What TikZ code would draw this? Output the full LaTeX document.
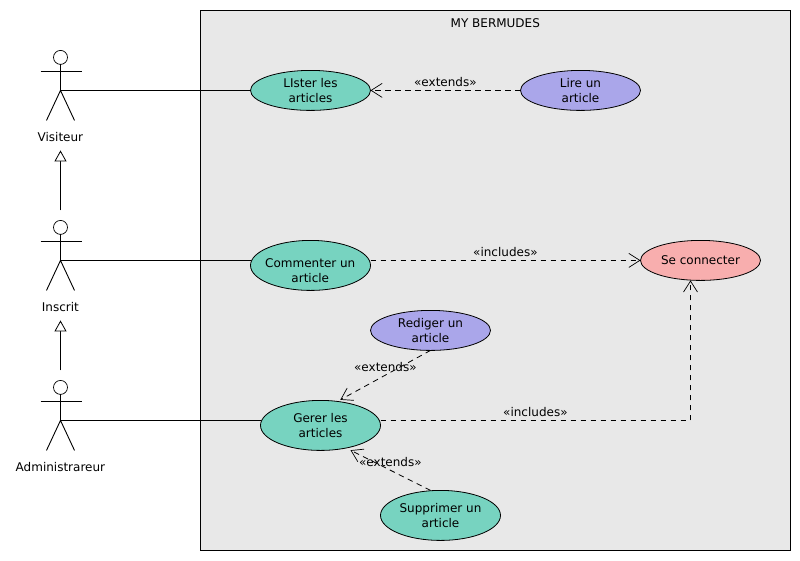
\documentclass[tikz,border=0pt]{standalone}
\usepackage{fontspec}
\setmainfont{DejaVu Sans}
\usetikzlibrary{arrows.meta,shapes.geometric}
\tikzset{
  x=1pt,y=-1pt,
  every node/.style={font=\fontsize{12}{15}\selectfont,text=black},
  line/.style={draw=black,line width=0.9pt},
  uc/.style={ellipse,draw=black,line width=0.8pt,minimum width=120pt,inner xsep=-12pt,inner ysep=0pt,outer sep=0pt,align=center},
  ucsmall/.style={uc,minimum height=40pt},
  ucbig/.style={uc,minimum height=50pt},
  teal/.style={fill=tealc},
  purple/.style={fill=purplec},
  pink/.style={fill=pinkc},
  dep/.style={draw=black,line width=0.8pt,dash pattern=on 5.5pt off 4.5pt,-{Straight Barb[length=11pt,width=14pt,line width=0.7pt]}},
  gen/.style={draw=black,line width=0.9pt,-{Triangle[open,length=11pt,width=12pt,fill=white,line width=0.8pt]}},
  actorpart/.style={draw=black,line width=0.9pt},
  lbl/.style={inner sep=0pt,align=center}
}
\definecolor{tealc}{HTML}{77D3C0}
\definecolor{purplec}{HTML}{AAA6EA}
\definecolor{pinkc}{HTML}{F8AEAE}
\definecolor{sysc}{HTML}{E8E8E8}
\newcommand{\myactor}[2]{%
  \draw[actorpart,line width=0.7pt,fill=white] (#1,#2-33) circle (7pt);
  \draw[actorpart] (#1,#2-26) -- (#1,#2);
  \draw[actorpart] (#1-20,#2-19) -- (#1+21,#2-19);
  \draw[actorpart] (#1-14,#2+30) -- (#1,#2) -- (#1+14,#2+30);
}
\begin{document}
\begin{tikzpicture}
\useasboundingbox (0,0) rectangle (800,560);
\filldraw[fill=sysc,draw=black,line width=0.8pt] (200.5,10.6) rectangle (790.5,550.4);
\node[lbl] (title) at (495.3,23.4) {MY BERMUDES};

\node[ucsmall,teal] (lister) at (310.5,90.4) {LIster les\\articles};
\node[ucsmall,purple] (lire) at (580.5,90.4) {Lire un\\article};
\node[ucbig,teal] (commenter) at (310.5,265.4) {};
\node[lbl] (commentertext) at (310.3,270.4) {Commenter un\\article};
\node[ucsmall,pink] (connecter) at (700.5,260.4) {Se connecter};
\node[ucsmall,purple] (rediger) at (430.5,330.4) {Rediger un\\article};
\node[ucbig,teal] (gerer) at (320.5,425.4) {Gerer les\\articles};
\node[ucbig,teal] (supprimer) at (440.5,515.4) {Supprimer un\\article};

\myactor{60.5}{90.4}
\myactor{60.5}{260.4}
\myactor{60.5}{420.4}
\coordinate (hipV) at (60.5,90.4);
\coordinate (hipI) at (60.5,260.4);
\coordinate (hipA) at (60.5,420.4);
\coordinate (triV) at (60.5,150.4);
\coordinate (startI) at (60.5,210.4);
\coordinate (triI) at (60.5,320.4);
\coordinate (startA) at (60.5,370.4);
\node[lbl] (visiteur) at (60.4,137.5) {Visiteur};
\node[lbl] (inscrit) at (60.4,307.5) {Inscrit};
\node[lbl] (admin) at (60.4,467.5) {Administrareur};

\draw[line] (hipV) -- (lister.west);
\coordinate (cWest) at (250.5,260.4);
\coordinate (gWest) at (260.5,420.4);
\draw[line] (hipI) -- (cWest);
\draw[line] (hipA) -- (gWest);
\draw[gen] (startI) -- (triV);
\draw[gen] (startA) -- (triI);

\coordinate (cEast) at (370.5,260.4);
\coordinate (gEast) at (380.5,420.4);
\coordinate (corner) at (690.5,420.4);
\coordinate (cBot) at (690.5,280.4);
\coordinate (gTop) at (340.3,399.8);
\coordinate (gBot) at (350.5,450.2);
\coordinate (sTop) at (430.5,490.4);
\draw[dep] (lire.west) -- (lister.east);
\draw[dep] (cEast) -- (connecter.west);
\draw[dep] (gEast) -- (corner) -- (cBot);
\draw[dep] (rediger.south) -- (gTop);
\draw[dep] (sTop) -- (gBot);

\node[lbl] (l1) at (445.4,82.5) {«extends»};
\node[lbl] (l2) at (505.4,252.5) {«includes»};
\node[lbl] (l3) at (385.4,367.5) {«extends»};
\node[lbl] (l4) at (535.4,412.5) {«includes»};
\node[lbl] (l5) at (390.4,462.5) {«extends»};
\end{tikzpicture}
\end{document}
